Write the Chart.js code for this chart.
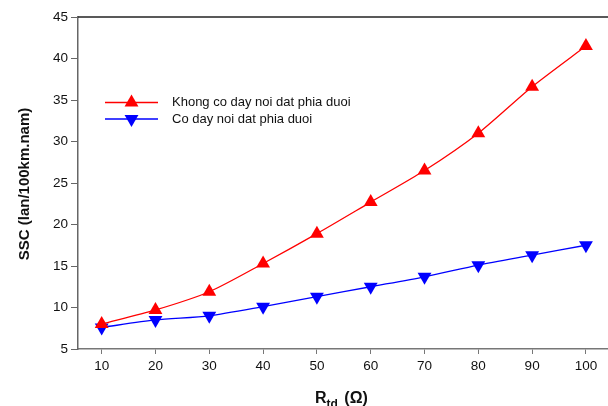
<!DOCTYPE html>
<html>
<head>
<meta charset="utf-8">
<script src="https://cdn.jsdelivr.net/npm/chart.js@4"></script>
<style>
  html, body { margin: 0; padding: 0; background: #fff; }
  #wrap { width: 608px; height: 406px; }
</style>
</head>
<body>
<div id="wrap"><canvas id="myChart" width="608" height="406"></canvas></div>
<script>
// Data
var rValues = [10, 20, 30, 40, 50, 60, 70, 80, 90, 100];
var withoutWire = [8.0, 9.7, 11.9, 15.3, 18.9, 22.7, 26.5, 31.0, 36.6, 41.5];
var withWire = [7.6, 8.5, 9.0, 10.1, 11.3, 12.5, 13.7, 15.1, 16.3, 17.5];
var xTicks = [10, 20, 30, 40, 50, 60, 70, 80, 90, 100];
var yTicks = [5, 10, 15, 20, 25, 30, 35, 40, 45];
var seriesNames = ['Khong co day noi dat phia duoi', 'Co day noi dat phia duoi'];
var xTitleMain = 'R', xTitleSub = 'td', xTitleUnit = ' (Ω)';
var yTitle = 'SSC (lan/100km.nam)';

var FONT = '"Liberation Sans", Arial, sans-serif';

function toPoints(xs, ys) {
  return xs.map(function(x, i) { return { x: x, y: ys[i] }; });
}

// Legend, frame line on top and the axis titles
var extras = {
  id: 'extras',
  afterDraw: function(chart) {
    var ctx = chart.ctx;
    var area = chart.chartArea;
    ctx.save();

    // top frame line
    ctx.strokeStyle = '#222';
    ctx.lineWidth = 1.5;
    ctx.beginPath();
    ctx.moveTo(area.left, area.top);
    ctx.lineTo(chart.width, area.top);
    ctx.stroke();

    // legend
    var rows = [
      { y: 102.5, color: '#ff0000', rot: 0 },
      { y: 119, color: '#0000ff', rot: 180 }
    ];
    rows.forEach(function(r, i) {
      ctx.strokeStyle = r.color;
      ctx.lineWidth = 1.3;
      ctx.beginPath();
      ctx.moveTo(105, r.y);
      ctx.lineTo(158, r.y);
      ctx.stroke();
      ctx.fillStyle = r.color;
      Chart.helpers.drawPoint(ctx, { pointStyle: 'triangle', radius: 8, rotation: r.rot, borderWidth: 0 }, 131.5, r.y);
      ctx.fillStyle = '#111';
      ctx.font = '13px ' + FONT;
      ctx.textAlign = 'left';
      ctx.textBaseline = 'middle';
      ctx.fillText(seriesNames[i], 172, r.y);
    });

    // x title with subscript
    ctx.fillStyle = '#111';
    ctx.textBaseline = 'alphabetic';
    ctx.textAlign = 'left';
    var x0 = 315;
    ctx.font = 'bold 16px ' + FONT;
    ctx.fillText(xTitleMain, x0, 403);
    var w1 = ctx.measureText(xTitleMain).width;
    ctx.font = 'bold 12px ' + FONT;
    ctx.fillText(xTitleSub, x0 + w1, 408);
    var w2 = ctx.measureText(xTitleSub).width;
    ctx.font = 'bold 16px ' + FONT;
    ctx.fillText(xTitleUnit, x0 + w1 + w2 + 2, 403);

    // y title
    ctx.translate(25, 184);
    ctx.rotate(-Math.PI / 2);
    ctx.font = 'bold 15px ' + FONT;
    ctx.textAlign = 'center';
    ctx.textBaseline = 'middle';
    ctx.fillText(yTitle, 0, 0);
    ctx.restore();
  }
};

var ctx = document.getElementById('myChart').getContext('2d');
var myChart = new Chart(ctx, {
  type: 'line',
  data: {
    datasets: [{
      label: seriesNames[0],
      data: toPoints(rValues, withoutWire),
      borderColor: '#ff0000',
      backgroundColor: '#ff0000',
      borderWidth: 1.3,
      pointStyle: 'triangle',
      pointRadius: 8,
      pointBorderWidth: 0,
      tension: 0.25
    }, {
      label: seriesNames[1],
      data: toPoints(rValues, withWire),
      borderColor: '#0000ff',
      backgroundColor: '#0000ff',
      borderWidth: 1.3,
      pointStyle: 'triangle',
      rotation: 180,
      pointRadius: 8,
      pointBorderWidth: 0,
      tension: 0.25
    }]
  },
  options: {
    responsive: false,
    animation: false,
    events: [],
    layout: { autoPadding: false, padding: { top: 17, right: 0, left: 0, bottom: 0 } },
    plugins: { legend: { display: false }, tooltip: { enabled: false } },
    scales: {
      x: {
        type: 'linear',
        min: 5.6,
        max: 104.1,
        afterBuildTicks: function(scale) {
          scale.ticks = xTicks.map(function(v) { return { value: v }; });
        },
        afterFit: function(scale) {
          scale.height = 57;
          scale.paddingLeft = 0;
          scale.paddingRight = 0;
        },
        border: { display: true, color: '#777', width: 1.5 },
        grid: { drawOnChartArea: false, drawTicks: true, tickLength: 5, color: '#777', lineWidth: 1 },
        ticks: { color: '#111', font: { family: FONT, size: 13.5 }, padding: 4, maxRotation: 0, autoSkip: false }
      },
      y: {
        min: 5,
        max: 45,
        afterBuildTicks: function(scale) {
          scale.ticks = yTicks.map(function(v) { return { value: v }; });
        },
        afterFit: function(scale) {
          scale.width = 78;
          scale.paddingTop = 0;
          scale.paddingBottom = 0;
        },
        border: { display: true, color: '#666', width: 1.5 },
        grid: { drawOnChartArea: false, drawTicks: true, tickLength: 7, color: '#666', lineWidth: 1 },
        ticks: { color: '#111', font: { family: FONT, size: 13.5 }, padding: 3 }
      }
    }
  },
  plugins: [extras]
});
</script>
</body>
</html>
